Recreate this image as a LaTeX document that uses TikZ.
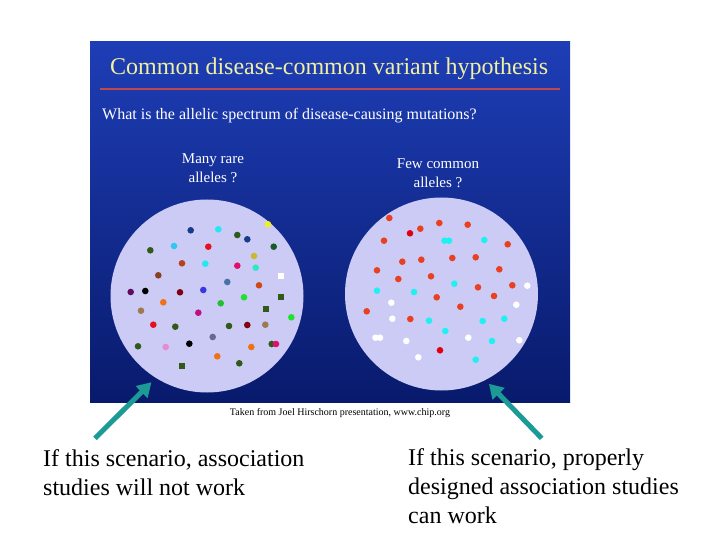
\documentclass[tikz,border=0pt]{standalone}
\usepackage{fontspec}
\setmainfont{Liberation Serif}
\usetikzlibrary{arrows.meta}
\definecolor{paneltop}{HTML}{1E3EB6}
\definecolor{panelbot}{HTML}{081A6C}
\definecolor{titleyel}{HTML}{F0F0A0}
\definecolor{rule}{HTML}{C04848}
\definecolor{circfill}{HTML}{CBCBF5}
\definecolor{arrteal}{HTML}{1B9A96}
\definecolor{dblue}{HTML}{1A3A8A}
\definecolor{cyn}{HTML}{22E8F0}
\definecolor{yel}{HTML}{F0F020}
\definecolor{dgreen}{HTML}{2F5A1A}
\definecolor{dgreenb}{HTML}{1A5A2A}
\definecolor{lblue}{HTML}{30C8F0}
\definecolor{red1}{HTML}{E81020}
\definecolor{olive}{HTML}{C8B830}
\definecolor{rust}{HTML}{B84020}
\definecolor{crim}{HTML}{E0106A}
\definecolor{aqua}{HTML}{30E8C8}
\definecolor{brown1}{HTML}{8A4020}
\definecolor{steel}{HTML}{4A70A8}
\definecolor{rustb}{HTML}{D04818}
\definecolor{purp}{HTML}{600A60}
\definecolor{maroon}{HTML}{800010}
\definecolor{blue1}{HTML}{3838E0}
\definecolor{green1}{HTML}{20E030}
\definecolor{green2}{HTML}{20C030}
\definecolor{orng}{HTML}{F07018}
\definecolor{tan1}{HTML}{A07850}
\definecolor{magn}{HTML}{C01080}
\definecolor{pink1}{HTML}{E888D8}
\definecolor{gray1}{HTML}{686890}
\definecolor{ored}{HTML}{E84020}
\definecolor{dred}{HTML}{E00010}
\definecolor{rcyan}{HTML}{20F0F0}
\tikzset{
  bubble/.style={circle, fill=circfill, inner sep=0pt},
  tealarrow/.style={draw=arrteal, line width=5pt, -{Triangle[length=14pt,width=16pt]}},
  bottomtext/.style={anchor=base west, align=left, font=\fontsize{24}{29}\selectfont, inner sep=0pt},
  qtext/.style={anchor=base, align=center, text=white, font=\fontsize{15}{19}\selectfont, inner sep=0pt}
}
\begin{document}
\begin{tikzpicture}[x=1pt,y=-1pt]
\useasboundingbox (0,0) rectangle (720,540);
\fill[white] (0,0) rectangle (720,540);
\shade[top color=paneltop, bottom color=panelbot] (90,42) rectangle (570,402);
\node[anchor=base west, inner sep=0pt, text=titleyel, font=\fontsize{24}{28}\selectfont] (title) at (110,75) {Common disease-common variant hypothesis};
\draw[rule, line width=2pt] (100,89.3) -- (560,89.3);
\node[anchor=base west, inner sep=0pt, text=white, font=\fontsize{16}{19}\selectfont] (question) at (102,120) {What is the allelic spectrum of disease-causing mutations?};
\node[qtext] (many) at (213,183) {Many rare\\alleles ?};
\node[qtext] (few) at (438,188) {Few common\\alleles ?};
\node[bubble, minimum size=193pt] (lc) at (207,296) {};
\node[bubble, minimum size=193pt] (rc) at (441.5,294) {};
% left dots
\foreach \x/\y/\c in {190.7/230.3/dblue, 218.3/229.3/cyn, 268/224.3/yel, 237.3/235/dgreen, 247.3/239.3/dblue,
  150.3/250.3/dgreen, 174/246/lblue, 208.3/246.7/red1, 273.7/246.7/dgreenb, 254/256/olive,
  182/263.3/rust, 205.3/263.7/cyn, 237.3/265.7/crim, 255.7/267.7/aqua, 158.3/275.3/brown1,
  227.3/282/steel, 259/285.3/rustb, 130.7/292/purp, 145.3/291/black, 180/292.3/maroon,
  203.3/290/blue1, 244/297.3/green1, 163.3/302.3/orng, 220.7/303.3/green2, 141/310.7/tan1,
  198.3/312.7/magn, 291.3/317.3/green1, 153.3/324.7/red1, 175.3/326.7/dgreen, 229/326/dgreen,
  247.3/325/maroon, 265.3/324.7/tan1, 138/346.3/dgreen, 165.7/347/pink1, 189.3/343.7/black,
  212.7/337/gray1, 251.3/347/orng, 271.7/344/dgreen, 276/344/crim, 217.3/356.3/orng, 239.3/363.3/dgreen}
  \fill[\c] (\x,\y) circle (3.3pt);
\foreach \x/\y/\c in {281/276/white, 281/296.7/dgreen, 266/309/dgreen, 182/365.7/dgreen}
  \fill[\c] (\x-3,\y-3) rectangle (\x+3,\y+3);
% right dots
\foreach \x/\y in {389.3/218, 439.3/223, 420.3/228.7, 467.7/224.7, 384/240.7, 507.7/244.3,
  402.3/261.7, 421.3/259.7, 452.3/258, 475.7/257.3, 377/270.3, 499.3/269.3, 398.3/279,
  431/276.3, 478/287.3, 512.3/285.3, 436.7/297.3, 494/296, 460.3/306.7, 366.7/311.3, 410.3/319}
  \fill[ored] (\x,\y) circle (3.3pt);
\foreach \x/\y in {410/233.3, 440/350.3}
  \fill[dred] (\x,\y) circle (3.3pt);
\foreach \x/\y in {444.5/240.7, 449/240.7, 484.3/240, 454.3/283.7, 377/290.7, 414/292, 429/320.7,
  482.7/321, 504.3/318.7, 445.3/331, 492/341, 475.7/359.7}
  \fill[rcyan] (\x,\y) circle (3.3pt);
\foreach \x/\y in {527.3/285.7, 391.3/302.7, 516.3/304.7, 392.3/318.7, 375.5/337.7, 380/337.7,
  406.3/341, 468.3/337.7, 519.3/340.3, 418.3/357.3}
  \fill[white] (\x,\y) circle (3.3pt);
\node[anchor=base, inner sep=0pt, font=\fontsize{10}{12}\selectfont] (credit) at (340,415) {Taken from Joel Hirschorn presentation, www.chip.org};
\coordinate (ltail) at (95,438.3);
\coordinate (rtail) at (541.7,438.3);
\draw[tealarrow, shorten >=6pt] (ltail) -- (lc.238);
\draw[tealarrow, shorten >=5pt] (rtail) -- (rc.297);
\node[bottomtext] (lefttext) at (43,495) {If this scenario, association\\studies will not work};
\node[bottomtext] (righttext) at (408,523) {If this scenario, properly\\designed association studies\\can work};
\end{tikzpicture}
\end{document}
